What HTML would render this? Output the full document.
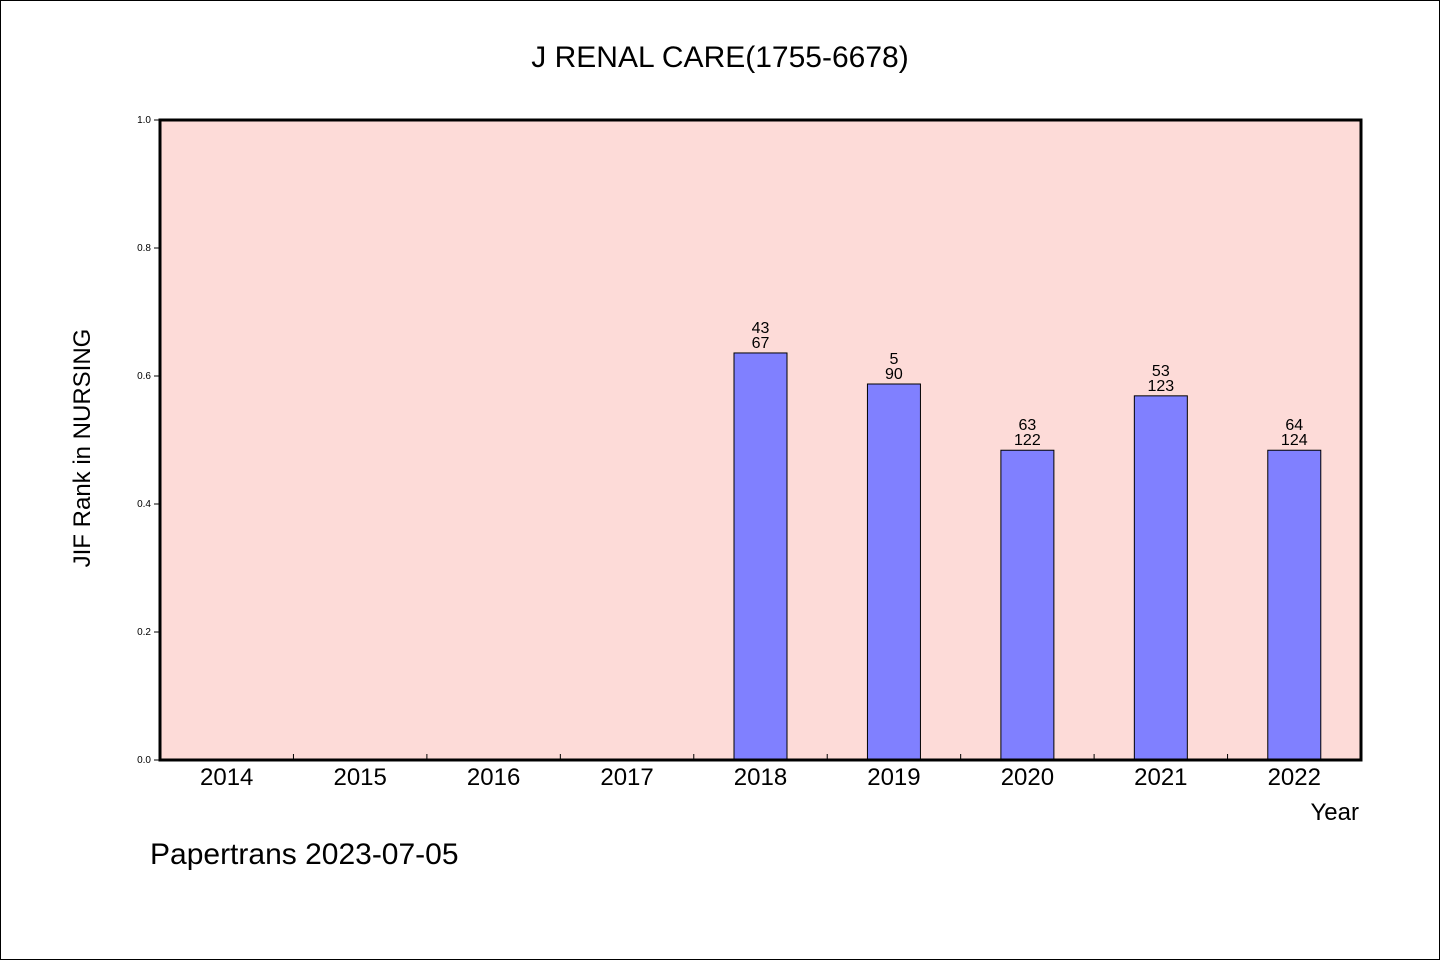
<!DOCTYPE html>
<html><head><meta charset="utf-8"><style>
body{margin:0;background:#fff}
svg{display:block;font-family:"WenQuanYi Zen Hei","Liberation Sans",sans-serif}
</style></head><body>
<svg id="chart" width="1440" height="960" viewBox="0 0 1440 960">
<rect x="0.5" y="0.5" width="1439" height="959" fill="#fff" stroke="#000"/>
<text x="720" y="67" font-size="30" text-anchor="middle">J RENAL CARE(1755-6678)</text>
<rect x="160" y="120" width="1201" height="640" fill="#fddbd8"/>
<g id="axes"></g>
<g id="bars"></g>
<rect x="160" y="120" width="1201" height="640" fill="none" stroke="#000" stroke-width="3"/>
<text x="1359" y="820" font-size="24" text-anchor="end">Year</text>
<text transform="translate(90,448) rotate(-90)" font-size="24" text-anchor="middle">JIF Rank in NURSING</text>
<text x="150" y="864" font-size="30">Papertrans 2023-07-05</text>
</svg>
<script>
const categories=["2014","2015","2016","2017","2018","2019","2020","2021","2022"];
const values=[null,null,null,null,0.636,0.5875,0.484,0.569,0.484];
const ranks=[null,null,null,null,"43","5","63","53","64"];
const totals=[null,null,null,null,"67","90","122","123","124"];
const yTicks=[0,0.2,0.4,0.6,0.8,1.0];
const NS="http://www.w3.org/2000/svg";
const X0=160,W=1201,Y0=760,H=640;
const band=W/categories.length;
const xs=i=>X0+band*i;
const ys=v=>Y0-v*H;
function mk(tag,attrs,parent,text){const e=document.createElementNS(NS,tag);for(const k in attrs)e.setAttribute(k,attrs[k]);if(text!=null)e.textContent=text;parent.appendChild(e);return e;}
const ax=document.getElementById('axes'),bg=document.getElementById('bars');
yTicks.forEach(t=>{
 const l=mk('line',{x1:154,x2:160,y1:ys(t),y2:ys(t),stroke:'#000'},ax);
 
 
 const tx=mk('text',{x:151,y:ys(t)+3,'font-size':10,'text-anchor':'end'},ax,t.toFixed(1));
 
 
});
categories.forEach((c,i)=>{
 if(i>0){const l=mk('line',{x1:xs(i),x2:xs(i),y1:754,y2:760,stroke:'#000'},ax);
 
 }
 const tx=mk('text',{x:xs(i)+band/2,y:785,'font-size':24,'text-anchor':'middle'},ax,c);
 
 
 const v=values[i];
 if(v==null)return;
 const bw=53,cx=xs(i)+band/2;
 const r=mk('rect',{x:cx-bw/2,y:ys(v),width:bw,height:Y0-ys(v),fill:'#8080ff',stroke:'#000','stroke-width':1},bg);
 
 
 const t1=mk('text',{x:cx,y:ys(v)-20,'font-size':16,'text-anchor':'middle'},bg,ranks[i]);
 
 
 const t2=mk('text',{x:cx,y:ys(v)-5,'font-size':16,'text-anchor':'middle'},bg,totals[i]);
 
 
});
</script>
</body></html>
